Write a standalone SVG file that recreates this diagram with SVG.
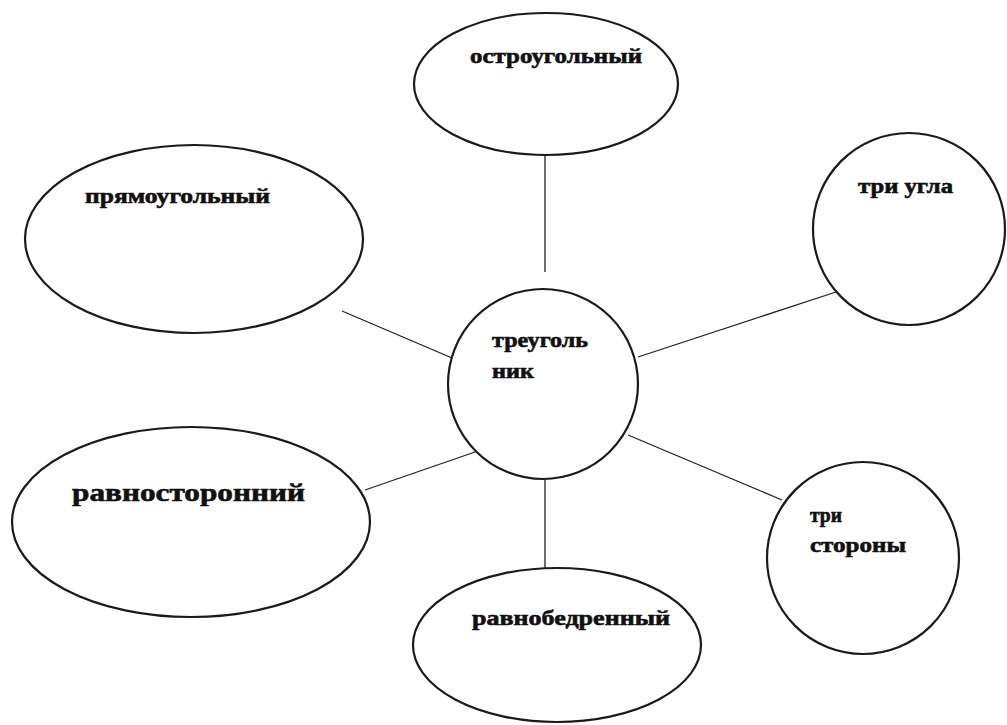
<svg xmlns="http://www.w3.org/2000/svg" width="1007" height="725" viewBox="0 0 1007 725">
<style>
.n{fill:#fff;stroke:#1a1a1a;stroke-width:2.2}
.c{stroke:#222;stroke-width:1.3;fill:none}
.t{font-family:"Liberation Serif","DejaVu Serif",serif;font-weight:bold;font-size:21px;fill:#111;stroke:#111;stroke-width:0.6}
.big{font-size:25px}
</style>
<rect width="1007" height="725" fill="#fff"/>
<g id="connectors">
<line class="c" x1="545" y1="155" x2="545" y2="272"/>
<line class="c" x1="342" y1="311" x2="452" y2="358"/>
<line class="c" x1="638" y1="357" x2="836" y2="292"/>
<line class="c" x1="365" y1="490" x2="475" y2="452"/>
<line class="c" x1="545" y1="478" x2="545" y2="570"/>
<line class="c" x1="628" y1="435" x2="782" y2="500"/>
</g>
<g id="n-top">
<ellipse class="n" cx="546" cy="84" rx="132" ry="71"/>
<text class="t" x="470" y="63" textLength="172" lengthAdjust="spacingAndGlyphs">остроугольный</text>
</g>
<g id="n-left">
<ellipse class="n" cx="194" cy="239" rx="169" ry="94"/>
<text class="t" x="85" y="203" textLength="185" lengthAdjust="spacingAndGlyphs">прямоугольный</text>
</g>
<g id="n-right">
<circle class="n" cx="909" cy="229" r="96"/>
<text class="t" x="858" y="193" textLength="95" lengthAdjust="spacingAndGlyphs">три угла</text>
</g>
<g id="n-center">
<circle class="n" cx="543" cy="384" r="95"/>
<text class="t" x="492" y="347" textLength="96" lengthAdjust="spacingAndGlyphs">треуголь</text>
<text class="t" x="492" y="378" textLength="42" lengthAdjust="spacingAndGlyphs">ник</text>
</g>
<g id="n-bottomleft">
<ellipse class="n" cx="191" cy="522" rx="179" ry="95"/>
<text class="t big" x="72" y="501" textLength="233" lengthAdjust="spacingAndGlyphs">равносторонний</text>
</g>
<g id="n-bottomright">
<circle class="n" cx="863" cy="558" r="96"/>
<text class="t" x="810" y="522" textLength="32" lengthAdjust="spacingAndGlyphs">три</text>
<text class="t" x="810" y="552" textLength="96" lengthAdjust="spacingAndGlyphs">стороны</text>
</g>
<g id="n-bottom">
<ellipse class="n" cx="557" cy="645" rx="144" ry="77"/>
<text class="t" x="472" y="625" textLength="198" lengthAdjust="spacingAndGlyphs">равнобедренный</text>
</g>
</svg>
